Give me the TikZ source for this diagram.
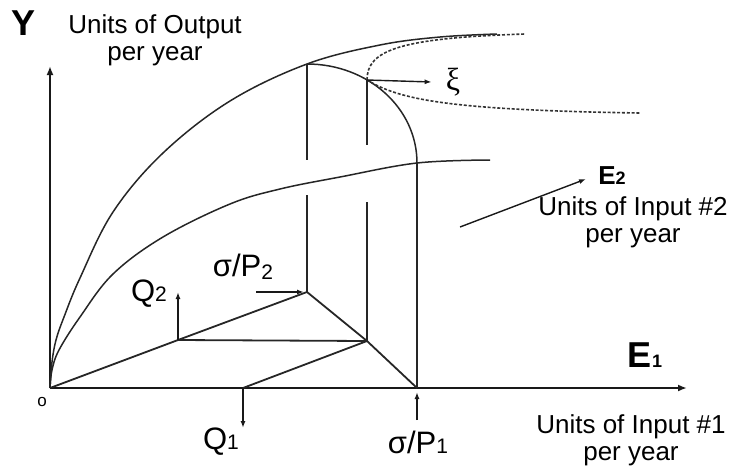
\documentclass[tikz,border=0pt]{standalone}
\usepackage{fontspec}
\setmainfont{Liberation Sans}
\newfontfamily\greekserif{Liberation Serif}
\usepackage{tikz}
\usetikzlibrary{arrows.meta, positioning, calc}
\tikzset{
  axisline/.style={line width=2pt, black!90, -{Latex[length=9pt,width=7pt]}},
  curveline/.style={line width=1.5pt, black!85},
  projline/.style={line width=1.8pt, black!85},
  dashline/.style={line width=1.6pt, black!80, dash pattern=on 3pt off 1.8pt},
  pointer/.style={line width=1.4pt, black!90, -{Latex[length=7pt,width=5pt]}},
  lbl/.style={font=\fontsize{26}{27}\selectfont, inner sep=0pt, align=center},
  symlbl/.style={font=\fontsize{31}{31}\selectfont, inner sep=0pt},
  biglbl/.style={font=\fontsize{36}{36}\selectfont\bfseries, inner sep=0pt},
}
\newcommand{\lowdig}[1]{{\fontsize{18}{18}\selectfont #1}}
\newcommand{\symdig}[1]{{\fontsize{21}{21}\selectfont #1}}
\begin{document}
\begin{tikzpicture}[x=1pt, y=-1pt]
\useasboundingbox (0,0) rectangle (734,467);
% points of the construction
\coordinate (O) at (50,388);
\coordinate (Xend) at (687,388);
\coordinate (Yend) at (50,66);
\coordinate (Q2pt) at (178,340);
\coordinate (P2pt) at (307,292);
\coordinate (Mpt) at (367,341);
\coordinate (Q1pt) at (243,388);
\coordinate (P1pt) at (417,388);
\coordinate (Top) at (307,64);
\coordinate (Xi) at (367,80);
\coordinate (Rim) at (417,163);
% axes
\draw[axisline] (O) -- (Xend);
\draw[axisline] (O) -- (Yend);
% production curves
\draw[curveline] plot[smooth, tension=0.6] coordinates {(50,388) (52,362) (56,340) (64,317) (80,278) (113,212) (163,153) (230,101) (307,64) (380,45) (440,37) (497,34)};
\draw[curveline] plot[smooth, tension=0.6] coordinates {(50,388) (52,370) (59,350) (80,317) (113,274) (163,237) (230,204) (280,189) (340,177) (417,163) (490,160)};
\draw[curveline] (Top) .. controls (368,64) and (417,108) .. (Rim);
% dashed branches from xi
\draw[dashline] (Xi) .. controls (367,50) and (400,38) .. (525,34);
\draw[dashline] (Xi) .. controls (400,100) and (450,110) .. (640,113);
% verticals
\draw[projline] (Top) -- (307,160);
\draw[projline] (307,195) -- (P2pt);
\draw[projline] (Xi) -- (367,145);
\draw[projline] (367,202) -- (Mpt);
\draw[projline] (Rim) -- (P1pt);
% input plane
\draw[projline] (O) -- (Q2pt) -- (P2pt);
\draw[projline] (Q2pt) -- (Mpt);
\draw[projline] (P2pt) -- (Mpt) -- (P1pt);
\draw[projline] (Mpt) -- (Q1pt);
% labels
\node[biglbl] (ylbl) at (24,23) {Y};
\node[lbl, anchor=north] (outlbl) at (155,14) {Units of Output\\per year};
\node[font=\fontsize{17}{17}\selectfont, inner sep=0pt] (olbl) at (42,402) {o};
\node[biglbl] (e1lbl) at (645,355) {E\lowdig{1}};
\node[lbl, anchor=north] (in1lbl) at (631,414) {Units of Input \#1\\per year};
\node[font=\fontsize{26}{26}\selectfont\bfseries, inner sep=0pt] (e2lbl) at (612,176) {E\lowdig{2}};
\node[lbl, anchor=north] (in2lbl) at (633,196) {Units of Input \#2\\per year};
\node[symlbl] (q2lbl) at (149,294) {Q\symdig{2}};
\node[symlbl] (p2lbl) at (243,267) {σ/P\raisebox{-3pt}{\symdig{2}}};
\node[symlbl] (q1lbl) at (221,442) {Q\symdig{1}};
\node[symlbl] (p1lbl) at (418,442) {σ/P\symdig{1}};
\node[font=\fontsize{32}{32}\selectfont\greekserif, inner sep=0pt] (xilbl) at (453,82) {ξ};
% pointers
\coordinate (Q2tip) at (178,292);
\coordinate (P2tail) at (256,292);
\coordinate (Q1tip) at (243,428);
\coordinate (P1tail) at (417,420);
\coordinate (E2tail) at (460,227);
\coordinate (E2tip) at (586,179);
\draw[pointer] (Q2pt) -- (Q2tip);
\draw[pointer, shorten >=3pt] (P2tail) -- (P2pt);
\draw[pointer] (Q1pt) -- (Q1tip);
\draw[pointer, shorten >=4pt] (P1tail) -- (P1pt);
\draw[pointer] (E2tail) -- (E2tip);
\draw[pointer] (Xi) -- ([xshift=-14pt]xilbl.west);
\end{tikzpicture}
\end{document}
